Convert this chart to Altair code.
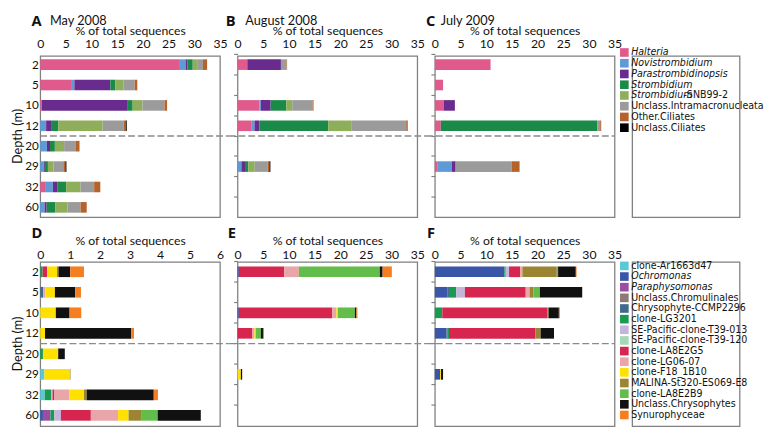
import altair as alt
import pandas as pd

FONT = "Lato"
LFONT = "Liberation Sans Narrow, DejaVu Sans Condensed, Lato"

DEPTHS = ["2", "5", "10", "12", "20", "29", "32", "60"]

CILIATES = ["Halteria", "Novistrombidium", "Parastrombidinopsis", "Strombidium",
            "Strombidium-SNB99-2", "Unclass.Intramacronucleata", "Other.Ciliates",
            "Unclass.Ciliates"]
CIL_COLORS = ["#e05a8c", "#5e9bd6", "#6a2b8e", "#1b8a48", "#8fae5a", "#9b9b9b",
              "#b5622b", "#000000"]
CIL_ITALIC = ["Halteria", "Novistrombidium", "Parastrombidinopsis", "Strombidium"]

A_MAY2008 = {
    "2":  [27.2, 1.1, 0.4, 1.0, 1.0, 1.0, 0.8, 0],
    "5":  [6.0, 0.65, 7.0, 1.0, 1.6, 2.15, 0.5, 0],
    "10": [0.3, 0, 16.75, 0.95, 1.9, 4.3, 0.5, 0],
    "12": [0, 1.15, 1.1, 1.25, 8.65, 4.1, 0.4, 0.2],
    "20": [0, 1.3, 0.6, 0.95, 1.8, 2.2, 0.8, 0],
    "29": [0, 0.7, 0.2, 0.6, 1.1, 1.9, 0.4, 0.2],
    "32": [1.1, 1.35, 0.95, 1.65, 2.8, 2.65, 1.2, 0],
    "60": [0, 0.85, 0.4, 1.65, 2.4, 2.55, 1.2, 0],
}
B_AUG2008 = {
    "2":  [1.9, 0, 6.55, 0, 0, 1.1, 0.1, 0],
    "10": [4.25, 0.3, 1.9, 3.05, 1.15, 3.95, 0.2, 0],
    "12": [2.65, 0.65, 0.95, 13.4, 4.6, 10.6, 0.3, 0],
    "29": [0, 0.75, 0.7, 0.65, 1.25, 2.55, 0.3, 0.2],
}
C_JUL2009 = {
    "2":  [10.85, 0, 0, 0, 0, 0, 0, 0],
    "5":  [1.6, 0, 0, 0, 0, 0, 0, 0],
    "10": [1.7, 0, 2.2, 0, 0, 0, 0, 0],
    "12": [1.15, 0, 0, 30.5, 0, 0.55, 0.2, 0],
    "29": [0.45, 2.85, 0.75, 0, 0, 10.95, 1.5, 0],
}

CHRYSO = ["clone-Ar1663d47", "Ochromonas", "Paraphysomonas", "Unclass.Chromulinales",
          "Chrysophyte-CCMP2296", "clone-LG3201", "SE-Pacific-clone-T39-013",
          "SE-Pacific-clone-T39-120", "clone-LA8E2G5", "clone-LG06-07", "clone-F18_1B10",
          "MALINA-St320-ES069-E8", "clone-LA8E2B9", "Unclass.Chrysophytes", "Synurophyceae"]
CHR_COLORS = ["#5bc8d6", "#3a56a8", "#9b4ea1", "#8b7b74", "#3f6a8c", "#1a9a50",
              "#c4b6da", "#a5d8b6", "#d6264f", "#e8a6a9", "#ffe000", "#9b8533",
              "#63bd4b", "#111111", "#f57f20"]
CHR_ITALIC = ["Ochromonas", "Paraphysomonas"]

D_MAY2008 = {
    "2":  [0, 0, 0, 0, 0, 0.08, 0, 0, 0.15, 0, 0.33, 0.05, 0, 0.39, 0.46],
    "5":  [0, 0, 0, 0, 0.1, 0, 0, 0, 0, 0.07, 0.32, 0, 0, 0.68, 0.19],
    "10": [0, 0, 0, 0, 0, 0, 0, 0, 0, 0, 0.52, 0, 0, 0.46, 0.39],
    "12": [0, 0, 0, 0, 0, 0, 0, 0, 0, 0, 0.16, 0, 0, 2.88, 0.09],
    "20": [0, 0, 0, 0, 0, 0.09, 0, 0, 0, 0, 0.51, 0, 0, 0.22, 0],
    "29": [0.14, 0, 0, 0, 0, 0, 0, 0, 0, 0, 0.85, 0.02, 0, 0, 0],
    "32": [0.15, 0, 0, 0, 0, 0.21, 0.05, 0, 0.05, 0.51, 0.49, 0.09, 0, 2.24, 0.14],
    "60": [0, 0.09, 0.25, 0, 0, 0.13, 0.22, 0, 1.0, 0.91, 0.35, 0.44, 0.53, 1.44, 0],
}
E_AUG2008 = {
    "2":  [0, 0.25, 0, 0, 0, 0, 0, 0, 8.85, 2.85, 0, 0, 15.75, 0.55, 1.8],
    "10": [0, 0.25, 0, 0, 0, 0, 0, 0, 18.2, 0.8, 0.3, 0, 3.3, 0.3, 0.2],
    "12": [0, 0, 0, 0, 0, 0, 0, 0, 2.9, 0.4, 0.25, 0, 1.0, 0.4, 0.2],
    "29": [0, 0, 0, 0, 0, 0, 0, 0, 0, 0, 0.65, 0, 0, 0.25, 0],
}
F_JUL2009 = {
    "2":  [0, 13.55, 0, 0, 0, 0.25, 0.65, 0, 2.2, 0.4, 0, 6.7, 0.25, 3.45, 0.15],
    "5":  [0, 2.5, 0, 0, 0.25, 1.4, 1.7, 0, 11.85, 0.75, 0, 0.75, 1.25, 8.25, 0],
    "10": [0, 0, 0, 0, 0, 1.45, 0, 0, 20.5, 0, 0, 0.2, 0, 2.0, 0.2],
    "12": [0, 2.25, 0, 0, 0.25, 0.25, 0, 0, 16.8, 0, 0, 1.05, 0, 2.6, 0],
    "29": [0, 1.0, 0, 0, 0, 0, 0, 0, 0, 0, 0.2, 0, 0, 0.4, 0],
}

TICKS_35 = [0, 5, 10, 15, 20, 25, 30, 35]
TICKS_6 = [0, 1, 2, 3, 4, 5, 6]

W = 184
GAP = 18
H_TOP, H_BOT = 165, 168


def to_df(values, cats):
    rows = []
    for d, vec in values.items():
        for i, (c, v) in enumerate(zip(cats, vec)):
            if v > 0:
                rows.append({"depth": d, "cat": c, "value": v, "idx": i})
    return pd.DataFrame(rows)


def panel(values, cats, colors, xmax, xticks, letter, date, col, top_row,
          letter_x, date_x):
    H = H_TOP if top_row else H_BOT
    yrange = [-1.5, 165.5] if top_row else [-0.5, 167.5]
    yscale = alt.Scale(domain=DEPTHS, range=yrange, paddingInner=0, paddingOuter=0)
    if col == 0:
        yaxis = alt.Axis(title="Depth (m)", ticks=False, domain=False, labelPadding=2,
                         titlePadding=0, labelFontSize=12, titleFontSize=13)
    else:
        yaxis = alt.Axis(title=None, labels=False, ticks=True, tickSize=4,
                         tickColor="#808080", tickWidth=1.2, domain=False, bandPosition=0)
    xaxis = alt.Axis(orient="top", values=xticks, title="% of total sequences",
                     ticks=False, domain=False, labelFlush=False, labelOverlap=False,
                     labelPadding=6 if top_row else 1, titlePadding=0 if top_row else 0.5,
                     labelFontSize=12.5, titleFontSize=12.5)
    df = to_df(values, cats)
    bars = alt.Chart(df).mark_bar(height={"band": 0.52}).encode(
        x=alt.X("value:Q", stack="zero", scale=alt.Scale(domain=[0, xmax], nice=False),
                axis=xaxis),
        y=alt.Y("depth:N", sort=DEPTHS, scale=yscale, axis=yaxis),
        color=alt.Color("cat:N", scale=alt.Scale(domain=cats, range=colors), legend=None),
        order=alt.Order("idx:Q", sort="ascending"),
    )
    x0 = 0 if col == 0 else -GAP / 2
    x1 = W if col == 2 else W + GAP / 2
    rule = alt.Chart(pd.DataFrame({"depth": ["20"]})).mark_rule(
        strokeDash=[7, 3], color="#8a8a8a", strokeWidth=1.4).encode(
        y=alt.Y("depth:N", sort=DEPTHS, scale=yscale, axis=yaxis, bandPosition=0),
        x=alt.value(x0), x2=alt.value(x1))
    ly = -43 if top_row else -37
    let = alt.Chart(pd.DataFrame({"t": [letter]})).mark_text(
        align="left", baseline="top", fontSize=15, fontWeight="bold",
        font="Open Sans", color="#111").encode(text="t:N", x=alt.value(letter_x),
                                              y=alt.value(ly))
    layers = [bars, rule, let]
    if date:
        dt = alt.Chart(pd.DataFrame({"t": [date]})).mark_text(
            align="left", baseline="top", fontSize=13, font=FONT,
            color="#111").encode(text="t:N", x=alt.value(date_x), y=alt.value(ly + 1))
        layers.append(dt)
    return alt.layer(*layers).properties(width=W, height=H)


def legend(cats, colors, italics, yrange, H, fsize, sq, mix_x):
    df = pd.DataFrame({
        "cat": cats,
        "ital": [("Strombidium" if c == "Strombidium-SNB99-2" else (c if c in italics else ""))
                 for c in cats],
        "rest": [("-SNB99-2" if c == "Strombidium-SNB99-2" else ("" if c in italics else c))
                 for c in cats],
    })
    y = alt.Y("cat:N", sort=cats, axis=None,
              scale=alt.Scale(domain=cats, range=yrange, paddingInner=0, paddingOuter=0))
    squares = alt.Chart(df).mark_square(size=sq, opacity=1).encode(
        x=alt.value(-8), y=y,
        color=alt.Color("cat:N", scale=alt.Scale(domain=cats, range=colors), legend=None))
    t_it = alt.Chart(df).transform_filter("datum.ital != ''").mark_text(
        align="left", baseline="middle", fontSize=fsize, fontStyle="italic", font=LFONT,
        color="#111").encode(x=alt.value(-1), y=y, text="ital:N")
    t_no = alt.Chart(df).transform_filter("datum.ital == '' && datum.rest != ''").mark_text(
        align="left", baseline="middle", fontSize=fsize, font=LFONT,
        color="#111").encode(x=alt.value(-1), y=y, text="rest:N")
    t_mix = alt.Chart(df).transform_filter("datum.ital != '' && datum.rest != ''").mark_text(
        align="left", baseline="middle", fontSize=fsize, font=LFONT,
        color="#111").encode(x=alt.value(mix_x), y=y, text="rest:N")
    return alt.layer(squares, t_it, t_no, t_mix).properties(width=110, height=H)


pA = panel(A_MAY2008, CILIATES, CIL_COLORS, 35, TICKS_35, "A", "May 2008", 0, True, -9, 10)
pB = panel(B_AUG2008, CILIATES, CIL_COLORS, 35, TICKS_35, "B", "August 2008", 1, True, -12, 8)
pC = panel(C_JUL2009, CILIATES, CIL_COLORS, 35, TICKS_35, "C", "July 2009", 2, True, -9, 6)
legTop = legend(CILIATES, CIL_COLORS, CIL_ITALIC, [-9, 79], H_TOP, 10.8, 78, 52.5)
pD = panel(D_MAY2008, CHRYSO, CHR_COLORS, 6, TICKS_6, "D", "", 0, False, -9, 0)
pE = panel(E_AUG2008, CHRYSO, CHR_COLORS, 35, TICKS_35, "E", "", 1, False, -10, 0)
pF = panel(F_JUL2009, CHRYSO, CHR_COLORS, 35, TICKS_35, "F", "", 2, False, -8, 0)
legBot = legend(CHRYSO, CHR_COLORS, CHR_ITALIC, [-1.45, 162.05], H_BOT, 10.8, 78, 52.5)

chart = alt.concat(pA, pB, pC, legTop, pD, pE, pF, legBot, columns=4,
                   spacing={"row": 46, "column": GAP}, bounds="flush").resolve_scale(
    color="independent", x="independent", y="independent"
).configure(
    font=FONT, padding={"left": 3, "top": 0, "right": 0, "bottom": 0}, background="white"
).configure_view(
    stroke="#808080", strokeWidth=1.3
).configure_axis(
    labelFont=FONT, titleFont=FONT, labelColor="#111", titleColor="#111",
    titleFontWeight="normal", grid=False
)

chart.save("out.html", embed_options={"renderer": "svg", "actions": False})
